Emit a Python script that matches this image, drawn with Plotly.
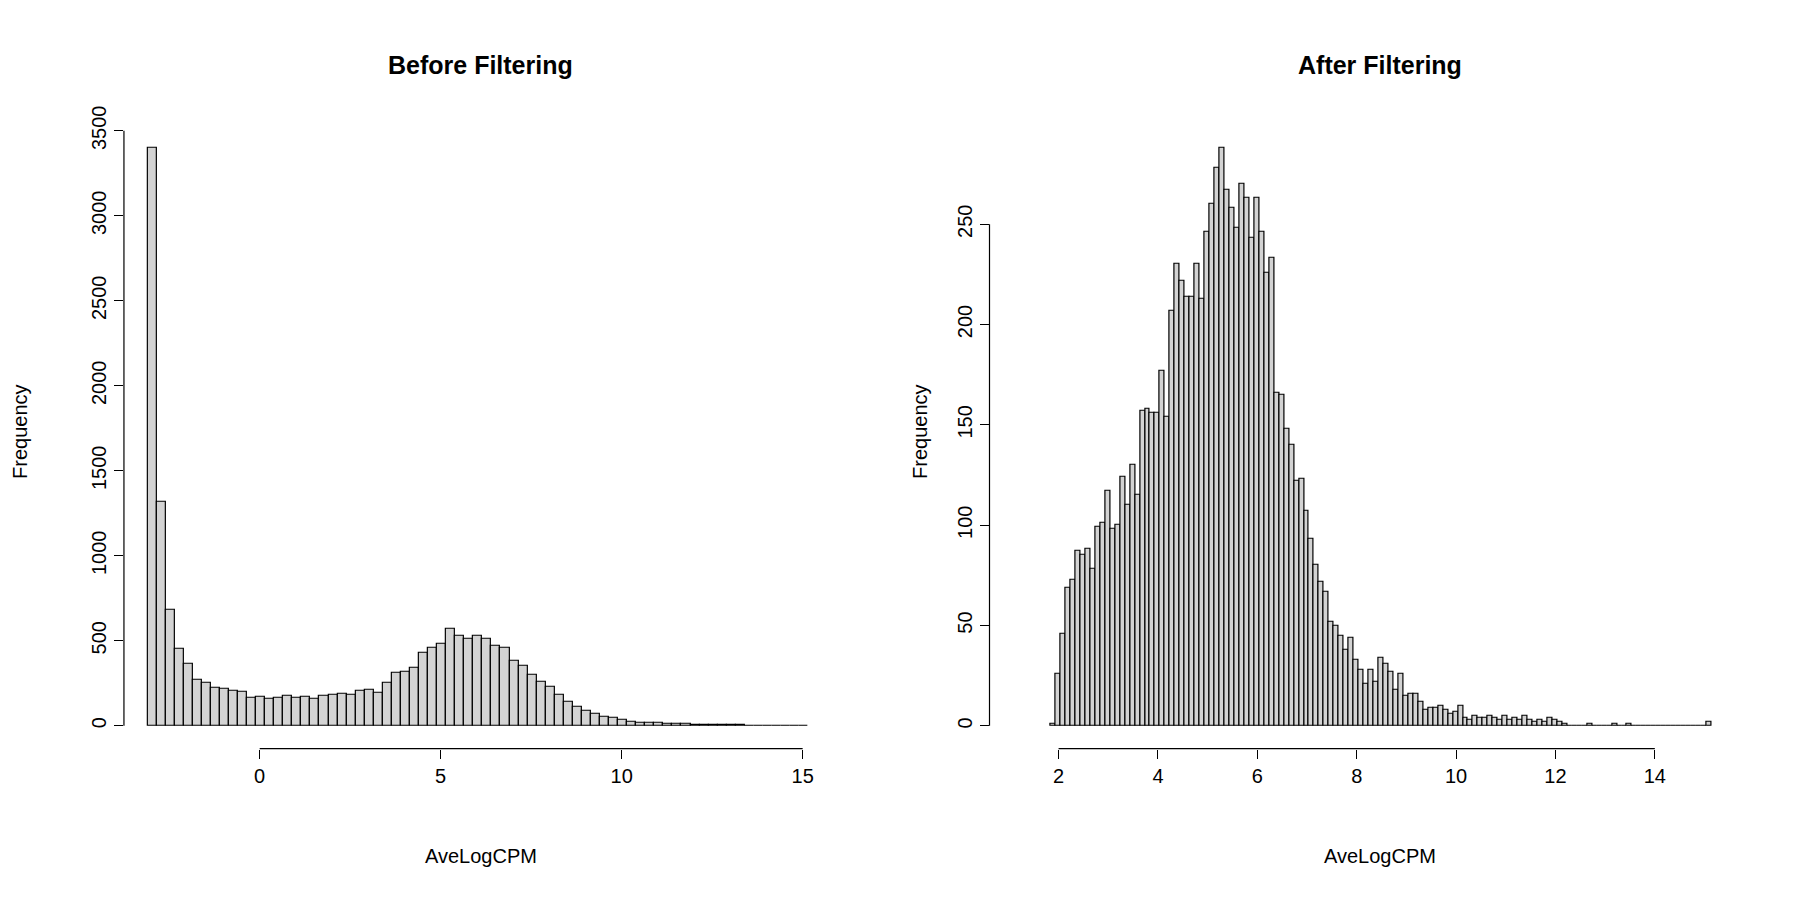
import numpy as np
import plotly.graph_objects as go

# histogram counts
before_start, before_width = -3.1, 0.25
before_counts = [3400, 1320, 680, 455, 365, 270, 250, 225, 215, 205, 200, 165,
                 170, 160, 165, 175, 165, 170, 160, 175, 180, 185, 180, 205,
                 210, 195, 250, 310, 320, 340, 430, 460, 480, 570, 530, 510,
                 530, 510, 470, 460, 380, 350, 300, 260, 230, 180, 140, 110,
                 85, 70, 55, 45, 35, 25, 20, 18, 15, 12, 10, 9, 8, 7, 5, 4,
                 3, 3, 2, 2, 1, 1, 1, 1, 1]

after_start, after_width = 1.84, 0.1
after_counts = [1, 26, 46, 69, 73, 87, 85, 88, 78, 99, 101, 117, 98, 100, 124,
                110, 130, 115, 157, 158, 156, 156, 177, 154, 207, 230, 222,
                214, 214, 230, 213, 246, 260, 278, 288, 267, 258, 248, 270,
                263, 243, 263, 246, 226, 233, 166, 165, 148, 140, 122, 123,
                107, 93, 80, 72, 67, 52, 50, 45, 38, 44, 33, 28, 21, 28, 22,
                34, 31, 27, 18, 26, 15, 16, 16, 12, 8, 9, 9, 10, 8, 6, 7, 10,
                4, 3, 5, 4, 4, 5, 4, 3, 5, 3, 4, 3, 5, 3, 2, 3, 2, 4, 3, 2, 1,
                0, 0, 0, 0, 1, 0, 0, 0, 0, 1, 0, 0, 1, 0, 0, 0, 0, 0, 0, 0, 0,
                0, 0, 0, 0, 0, 0, 0, 2]

before_xticks = [0, 5, 10, 15]
before_yticks = [0, 500, 1000, 1500, 2000, 2500, 3000, 3500]
after_xticks = [2, 4, 6, 8, 10, 12, 14]
after_yticks = [0, 50, 100, 150, 200, 250]

W, H = 1568, 784
font = "Liberation Sans"
fig = go.Figure()


def add_hist(counts, start, width, xa, ya):
    centers = start + width * (np.arange(len(counts)) + 0.5)
    fig.add_trace(go.Bar(x=centers, y=counts, width=width, xaxis=xa, yaxis=ya,
                         marker=dict(color="#d3d3d3", line=dict(color="black", width=1.2)),
                         showlegend=False))


add_hist(before_counts, before_start, before_width, "x", "y")
add_hist(after_counts, after_start, after_width, "x2", "y2")

ax = dict(showgrid=False, zeroline=False, showline=False, ticks="outside",
          ticklen=9, tickwidth=1.2, tickcolor="black",
          tickfont=dict(family=font, size=20, color="black"))

fig.update_layout(
    width=1800, height=900, plot_bgcolor="white", paper_bgcolor="white",
    margin=dict(l=0, r=0, t=0, b=0), bargap=0,
    xaxis=dict(ax, domain=[101 / W, 708 / W], range=[-3.75, 15.5],
               tickvals=before_xticks, anchor="y"),
    yaxis=dict(ax, domain=[1 - 644 / H, 1 - 86 / H], range=[-135, 3600],
               tickvals=before_yticks, tickangle=-90, anchor="x"),
    xaxis2=dict(ax, domain=[855 / W, 1493 / W], range=[0.61, 15.35],
                tickvals=after_xticks, anchor="y2"),
    yaxis2=dict(ax, domain=[1 - 644 / H, 1 - 86 / H], range=[-11.4, 305],
                tickvals=after_yticks, tickangle=-90, anchor="x2"),
)

line = dict(color="black", width=1.2)
fig.add_shape(type="line", xref="x", yref="y domain", x0=0, x1=15, y0=0, y1=0, line=line)
fig.add_shape(type="line", xref="x domain", yref="y", x0=0, x1=0, y0=0, y1=3500, line=line)
fig.add_shape(type="line", xref="x2", yref="y2 domain", x0=2, x1=14, y0=0, y1=0, line=line)
fig.add_shape(type="line", xref="x2 domain", yref="y2", x0=0, x1=0, y0=0, y1=250, line=line)

texts = [
    ("Before Filtering", 412, 43, 0, True),
    ("After Filtering", 1195, 43, 0, True),
    ("AveLogCPM", 412, 738, 0, False),
    ("AveLogCPM", 1195, 738, 0, False),
    ("Frequency", 11, 365, -90, False),
    ("Frequency", 795, 365, -90, False),
]
for t, x, y, ang, bold in texts:
    fig.add_annotation(text=f"<b>{t}</b>" if bold else t, x=x / W, y=1 - y / H,
                       xref="paper", yref="paper", showarrow=False, textangle=ang,
                       xanchor="center", yanchor="middle",
                       font=dict(family=font, size=25 if bold else 20, color="black"))

fig.write_html("out.html")
